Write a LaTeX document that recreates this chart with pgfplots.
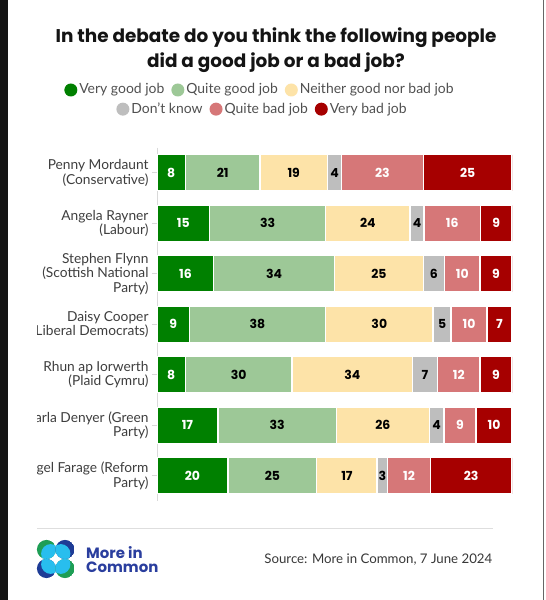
\documentclass[border=0pt]{standalone}
\usepackage{pgfplots}
\pgfplotsset{compat=1.18}
\usepackage{pgfplotstable}
\usepackage{fontspec}
\setmainfont{Lato}
\newfontfamily\titlefont{Poppins}
\definecolor{vg}{RGB}{0,128,0}
\definecolor{qg}{RGB}{157,200,151}
\definecolor{ne}{RGB}{253,227,168}
\definecolor{dk}{RGB}{190,190,190}
\definecolor{qb}{RGB}{214,119,120}
\definecolor{vb}{RGB}{166,0,0}
\definecolor{labgray}{RGB}{62,62,62}
\definecolor{leggray}{RGB}{80,80,80}
\definecolor{logogreen}{RGB}{30,158,85}
\definecolor{logonavy}{RGB}{30,60,150}
\definecolor{logolight}{RGB}{40,190,238}
\definecolor{micblue}{RGB}{42,62,158}

\pgfplotstableread{
idx vg qg ne dk qb vb
0 8 21 19 4 23 25
1 15 33 24 4 16 9
2 16 34 25 6 10 9
3 9 38 30 5 10 7
4 8 30 34 7 12 9
5 17 33 26 4 9 10
6 20 25 17 3 12 23
}\votes

\newcommand{\tot}{(\thisrow{vg}+\thisrow{qg}+\thisrow{ne}+\thisrow{dk}+\thisrow{qb}+\thisrow{vb})}
\newcommand{\lentry}[2]{\tikz[baseline=-0.55ex]\fill[#1] (0,0) circle (6.5bp);\hspace{2bp}#2}

\begin{document}
\begin{tikzpicture}
\begin{scope}[x=1bp,y=1bp]
\useasboundingbox (0,0) rectangle (546,600);
\fill[white] (0,0) rectangle (546,600);
\fill[black!92] (0,0) rectangle (8,600);
\draw[black!60, line width=1bp] (543,0) -- (543,600);

% title
\node[align=center, inner sep=0, text=black!92, font=\titlefont\fontsize{18.5}{25}\selectfont\bfseries] at (276,550)
  {In the debate do you think the following people\\did a good job or a bad job?};

% legend
\node[inner sep=0, text=leggray, font=\fontsize{14}{16}\selectfont] at (259,510)
  {\lentry{vg}{Very good job}\hspace{7bp}\lentry{qg}{Quite good job}\hspace{7bp}\lentry{ne}{Neither good nor bad job}};
\node[inner sep=0, text=leggray, font=\fontsize{14}{16}\selectfont] at (261.5,491)
  {\lentry{dk}{Don't know}\hspace{7bp}\lentry{qb}{Quite bad job}\hspace{7bp}\lentry{vb}{Very bad job}};
\end{scope}

\begin{scope}
\clip (37bp,0bp) rectangle (546bp,600bp);
\begin{axis}[
  at={(157bp,99bp)}, anchor=south west, scale only axis,
  width=355bp, height=353.5bp,
  xbar stacked, bar width=36bp,
  xmin=0, xmax=100, ymin=-0.5, ymax=6.5, y dir=reverse,
  axis x line=none, axis y line*=left,
  y axis line style={draw=black!15, line width=0.8bp},
  ytick={0,...,6},
  yticklabels={{Penny Mordaunt\\(Conservative)},{Angela Rayner\\(Labour)},{Stephen Flynn\\(Scottish National\\Party)},{Daisy Cooper\\(Liberal Democrats)},{Rhun ap Iorwerth\\(Plaid Cymru)},{Carla Denyer (Green\\Party)},{Nigel Farage (Reform\\Party)}},
  yticklabel style={align=right, text=labgray, font=\fontsize{13.8}{14.5}\selectfont},
  tick align=outside, major tick length=5bp,
  y tick style={draw=black!15, line width=0.6bp},
  every axis plot/.append style={draw=white, line width=1.3bp},
]
\addplot[fill=vg] table[x expr=\thisrow{vg}*100/\tot, y=idx]{\votes};
\addplot[fill=qg] table[x expr=\thisrow{qg}*100/\tot, y=idx]{\votes};
\addplot[fill=ne] table[x expr=\thisrow{ne}*100/\tot, y=idx]{\votes};
\addplot[fill=dk] table[x expr=\thisrow{dk}*100/\tot, y=idx]{\votes};
\addplot[fill=qb] table[x expr=\thisrow{qb}*100/\tot, y=idx]{\votes};
\addplot[fill=vb] table[x expr=\thisrow{vb}*100/\tot, y=idx]{\votes};
\end{axis}
\end{scope}

% value labels
\begin{axis}[
  at={(157bp,99bp)}, anchor=south west, scale only axis,
  width=355bp, height=353.5bp,
  xmin=0, xmax=100, ymin=-0.5, ymax=6.5, y dir=reverse,
  axis lines=none, clip=false,
  /pgf/number format/assume math mode=true,
  nodes near coords, point meta=explicit,
  every node near coord/.append style={anchor=center, inner sep=0, font=\titlefont\fontsize{12.5}{14}\selectfont\bfseries},
]
\addplot[draw=none, mark=none, nodes near coords style={text=white}] table[x expr=(\thisrow{vg}/2)*100/\tot, y=idx, meta=vg]{\votes};
\addplot[draw=none, mark=none, nodes near coords style={text=black}] table[x expr=(\thisrow{vg}+\thisrow{qg}/2)*100/\tot, y=idx, meta=qg]{\votes};
\addplot[draw=none, mark=none, nodes near coords style={text=black}] table[x expr=(\thisrow{vg}+\thisrow{qg}+\thisrow{ne}/2)*100/\tot, y=idx, meta=ne]{\votes};
\addplot[draw=none, mark=none, nodes near coords style={text=black}] table[x expr=(\thisrow{vg}+\thisrow{qg}+\thisrow{ne}+\thisrow{dk}/2)*100/\tot, y=idx, meta=dk]{\votes};
\addplot[draw=none, mark=none, nodes near coords style={text=white}] table[x expr=(\thisrow{vg}+\thisrow{qg}+\thisrow{ne}+\thisrow{dk}+\thisrow{qb}/2)*100/\tot, y=idx, meta=qb]{\votes};
\addplot[draw=none, mark=none, nodes near coords style={text=white}] table[x expr=(\thisrow{vg}+\thisrow{qg}+\thisrow{ne}+\thisrow{dk}+\thisrow{qb}+\thisrow{vb}/2)*100/\tot, y=idx, meta=vb]{\votes};
\end{axis}

% footer
\begin{scope}[x=1bp,y=1bp]
\draw[black!13, line width=0.9bp] (37,72) -- (493,72);
\foreach \cx/\cy/\dx/\dy/\col in {46.5/50.5/1/-1/logogreen, 65/50.5/-1/-1/logonavy, 46.5/31.5/1/1/logonavy, 65/31.5/-1/1/logogreen}{
  \begin{scope}
    \clip (\cx,\cy) circle (9.6);
    \fill[\col] (\cx,\cy) circle (9.6);
    \fill[logolight] (\cx+4.2*\dx,\cy+4.2*\dy) circle (9.6);
  \end{scope}
}
\node[anchor=west, align=left, inner sep=0, text=micblue, font=\titlefont\fontsize{15}{14.5}\selectfont\bfseries] at (86,40.5) {More in\\Common};
\node[anchor=east, inner sep=0, text=black!78, font=\fontsize{13.3}{16}\selectfont] at (492.5,40) {Source: More in Common, 7 June 2024};
\end{scope}
\end{tikzpicture}
\end{document}
